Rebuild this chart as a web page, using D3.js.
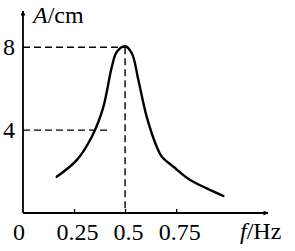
<!DOCTYPE html>
<html>
<head>
<meta charset="utf-8">
<script src="https://cdn.jsdelivr.net/npm/d3@7"></script>
<style>
  body { margin: 0; background: #fff; }
  svg text { font-family: "Liberation Serif", "Times New Roman", Times, "DejaVu Serif", serif; fill: #000; }
</style>
</head>
<body>
<svg id="chart"></svg>
<script>
// resonance curve
const freq = [0.165, 0.263, 0.337, 0.392, 0.435, 0.459, 0.5, 0.533, 0.565, 0.606, 0.655, 0.68, 0.737, 0.819, 0.9, 0.982];
const amp  = [1.75, 2.55, 3.68, 5.06, 7.05, 7.77, 8.05, 7.71, 6.42, 4.64, 3.2, 2.71, 2.23, 1.59, 1.19, 0.82];
const xTicks = [0.25, 0.5, 0.75];
const yTicks = [4, 8];
const peak = {f: 0.5, A: 8};
const halfLine = {A: 4, fEnd: 0.425};

const width = 295, height = 251;
const serif = '"Liberation Serif", "Times New Roman", Times, serif';
const fs = 24;

const x = d3.scaleLinear().domain([0, 1.2]).range([23, 268]);
const y = d3.scaleLinear().domain([0, 9.75]).range([213, 11]);

const svg = d3.select('#chart')
    .attr('width', width)
    .attr('height', height);

// arrow marker
const defs = svg.append('defs');
defs.append('marker')
    .attr('id', 'arrow')
    .attr('viewBox', '0 0 10 10')
    .attr('refX', 9).attr('refY', 5)
    .attr('markerWidth', 7).attr('markerHeight', 5)
    .attr('markerUnits', 'userSpaceOnUse')
    .attr('orient', 'auto')
  .append('path')
    .attr('d', 'M0,0L10,5L0,10Z')
    .attr('fill', '#000');

// axes lines
svg.append('line')
    .attr('x1', x(0)).attr('y1', y(0))
    .attr('x2', x(1.2)).attr('y2', y(0))
    .attr('stroke', '#000').attr('stroke-width', 1.8)
    .attr('marker-end', 'url(#arrow)');
svg.append('line')
    .attr('x1', x(0)).attr('y1', y(0))
    .attr('x2', x(0)).attr('y2', y(9.75))
    .attr('stroke', '#000').attr('stroke-width', 1.8)
    .attr('marker-end', 'url(#arrow)');

// x ticks and labels
const xAxis = svg.append('g')
    .attr('transform', `translate(0,${y(0)})`)
    .call(d3.axisBottom(x)
      .tickValues(xTicks)
      .tickFormat(d => d)
      .tickSizeInner(-4)
      .tickSizeOuter(0)
      .tickPadding(10));
xAxis.attr('font-family', serif);
xAxis.select('.domain').remove();
xAxis.selectAll('line').attr('stroke', '#000').attr('stroke-width', 1.3);
xAxis.selectAll('text')
    .attr('font-size', fs)
    .attr('dx', 3);

// y labels
const yAxis = svg.append('g')
    .attr('transform', `translate(${x(0)},0)`)
    .call(d3.axisLeft(y).tickValues(yTicks).tickSize(0).tickPadding(8));
yAxis.attr('font-family', serif);
yAxis.select('.domain').remove();
yAxis.selectAll('text')
    .attr('font-size', fs);

// origin label
svg.append('text')
    .attr('x', 19).attr('y', 240)
    .attr('text-anchor', 'middle')
    .attr('font-size', fs)
    .text('0');

// axis titles
const yt = svg.append('text').attr('x', 33).attr('y', 23).attr('font-size', fs);
yt.append('tspan').attr('font-style', 'italic').text('A');
yt.append('tspan').text('/cm');

const xt = svg.append('text').attr('x', 240).attr('y', 239).attr('font-size', fs);
xt.append('tspan').attr('font-style', 'italic').text('f');
xt.append('tspan').text('/Hz');

// dashed guides
const dash = '7,4';
svg.append('line')
    .attr('x1', x(0)).attr('y1', y(peak.A))
    .attr('x2', x(peak.f)).attr('y2', y(peak.A))
    .attr('stroke', '#000').attr('stroke-width', 1.4).attr('stroke-dasharray', dash);
svg.append('line')
    .attr('x1', x(peak.f)).attr('y1', y(peak.A))
    .attr('x2', x(peak.f)).attr('y2', y(0))
    .attr('stroke', '#000').attr('stroke-width', 1.4).attr('stroke-dasharray', dash);
svg.append('line')
    .attr('x1', x(0)).attr('y1', y(halfLine.A))
    .attr('x2', x(halfLine.fEnd)).attr('y2', y(halfLine.A))
    .attr('stroke', '#000').attr('stroke-width', 1.4).attr('stroke-dasharray', dash);

// curve
const line = d3.line()
    .x(d => x(d[0]))
    .y(d => y(d[1]))
    .curve(d3.curveCatmullRom.alpha(0.5));

svg.append('path')
    .datum(d3.zip(freq, amp))
    .attr('d', line)
    .attr('fill', 'none')
    .attr('stroke', '#000')
    .attr('stroke-width', 2.4)
    .attr('stroke-linecap', 'round');
</script>
</body>
</html>
